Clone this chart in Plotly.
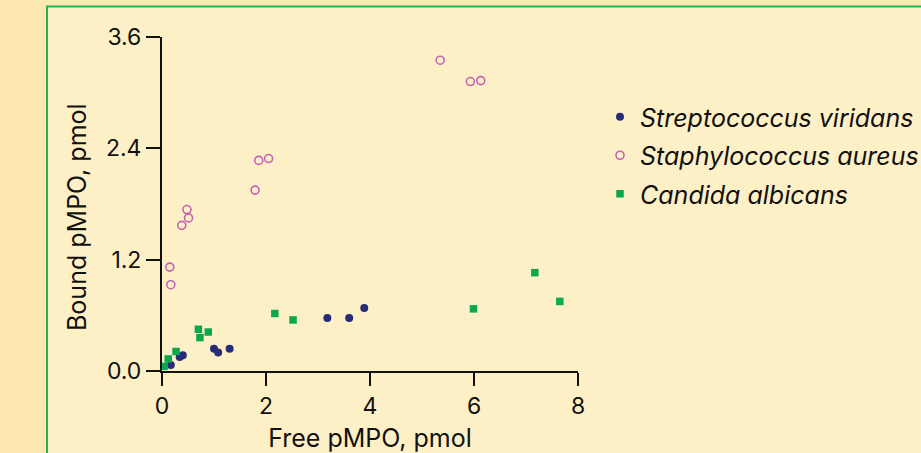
import plotly.graph_objects as go

# ---- data ----
strep_x = [0.17, 0.34, 0.40, 1.00, 1.08, 1.30, 3.18, 3.60, 3.89]
strep_y = [0.065, 0.15, 0.17, 0.24, 0.20, 0.24, 0.57, 0.57, 0.68]

staph_x = [0.15, 0.17, 0.38, 0.51, 0.48, 1.79, 1.86, 2.05, 5.35, 5.93, 6.13]
staph_y = [1.12, 0.93, 1.57, 1.65, 1.74, 1.95, 2.27, 2.29, 3.35, 3.12, 3.13]

cand_x = [0.04, 0.12, 0.27, 0.70, 0.73, 0.89, 2.17, 2.52, 5.99, 7.17, 7.65]
cand_y = [0.05, 0.13, 0.21, 0.45, 0.36, 0.42, 0.62, 0.55, 0.67, 1.06, 0.75]

x_ticks = [0, 2, 4, 6, 8]
y_ticks = [0.0, 1.2, 2.4, 3.6]

x_title = "Free pMPO, pmol"
y_title = "Bound pMPO, pmol"
names = ["Streptococcus viridans", "Staphylococcus aureus", "Candida albicans"]

# ---- style ----
W, H = 921, 453
ML, MR, MT, MB = 162, 343, 37, 82
PW, PH = W - ML - MR, H - MT - MB

def px_x(p):
    return (p - ML) / PW

def px_y(p):
    return (H - MB - p) / PH

FONT = "Inter"
outer_bg = "#FCE8B0"
inner_bg = "#FEF0C6"
frame_green = "#2DB04B"

fig = go.Figure()
fig.add_trace(go.Scatter(
    x=strep_x, y=strep_y, mode="markers", name=names[0], legendgroup="a",
    marker=dict(symbol="circle", size=8, color="#272B78"), cliponaxis=False))
fig.add_trace(go.Scatter(
    x=staph_x, y=staph_y, mode="markers", name=names[1], legendgroup="b",
    marker=dict(symbol="circle-open", size=8, color="#C660B4", line=dict(width=1.6)),
    cliponaxis=False))
fig.add_trace(go.Scatter(
    x=cand_x, y=cand_y, mode="markers", name=names[2], legendgroup="c",
    marker=dict(symbol="square", size=7.5, color="#0AA84F"), cliponaxis=False))

fig.update_layout(
    width=W, height=H,
    margin=dict(l=ML, r=MR, t=MT, b=MB, pad=0, autoexpand=False),
    paper_bgcolor=outer_bg,
    plot_bgcolor="rgba(0,0,0,0)",
    font=dict(family=FONT, size=23, color="#111111"),
    shapes=[dict(
        type="rect", xref="paper", yref="paper", layer="below",
        x0=px_x(47), x1=px_x(W + 20), y0=px_y(H + 20), y1=px_y(6.5),
        fillcolor=inner_bg, line=dict(color=frame_green, width=2))],
    xaxis=dict(
        range=[0, 8], tickvals=x_ticks, ticktext=[str(v) for v in x_ticks],
        showgrid=False, zeroline=False, showline=True, linecolor="#111111",
        linewidth=2, ticks="outside", ticklen=13, tickwidth=2, tickcolor="#111111",
        tickfont=dict(size=23), automargin=False,
        title=dict(text=x_title, font=dict(size=25), standoff=15)),
    yaxis=dict(
        range=[0, 3.6], tickvals=y_ticks, ticktext=[f"{v:.1f}" for v in y_ticks],
        showgrid=False, zeroline=False, showline=True, linecolor="#111111",
        linewidth=2, ticks="outside", ticklen=14, tickwidth=2, tickcolor="#111111",
        tickfont=dict(size=23), automargin=False),
    annotations=[dict(
        text=y_title, xref="paper", yref="paper", x=px_x(77), y=px_y(217),
        xanchor="center", yanchor="middle", textangle=-90, showarrow=False,
        font=dict(size=25))],
    legend=dict(
        x=px_x(600), y=px_y(94), xanchor="left", yanchor="top",
        bgcolor="rgba(0,0,0,0)", tracegroupgap=3,
        font=dict(size=25, style="italic")),
)

fig.write_html("out.html", config={"displayModeBar": False},
               post_script="document.body.style.margin='0px';")
